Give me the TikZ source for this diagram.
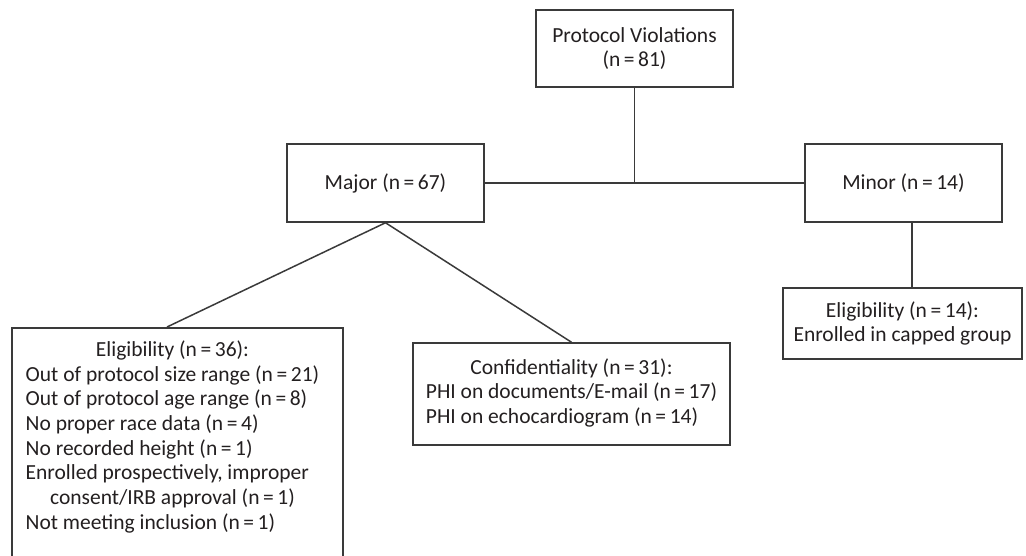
\documentclass[tikz,border=0pt]{standalone}
\usepackage{fontspec}
\setmainfont{Carlito}
\usetikzlibrary{positioning}
\definecolor{pvLine}{HTML}{3A3A3A}
\definecolor{pvInk} {HTML}{231F20}
\newcommand{\nn}[1]{(n\,=\,#1)}
\newcommand{\crow}[1]{\multicolumn{1}{@{}c@{}}{#1}}

\begin{document}
\begin{tikzpicture}[x=1pt,y=-1pt,
      font=\fontsize{21.5}{24.7}\selectfont,text=pvInk,
      box/.style={draw=pvLine,line width=1.5pt,inner sep=0pt,align=center},
      link/.style={pvLine,line width=1.5pt}]
  \useasboundingbox (0,0) rectangle (1026,556);
  \clip (0,0) rectangle (1026,556);

  % top level
  \node[box,minimum width=197,minimum height=77] (pv) at (634.5,48.5) {Protocol Violations\\\nn{81}};
  \node[box,minimum width=197,minimum height=78] (maj) at (385.5,183) {Major \nn{67}};
  \node[box,minimum width=197,minimum height=78] (mnr) at (903.5,183) {Minor \nn{14}};

  % second level
  \node[box,anchor=north,minimum width=331,minimum height=260] (elig) at (177.5,327) {};
  \node[inner sep=0pt,below=12pt of elig.north,xshift=-5pt] (eligtxt) {%
    \begin{tabular}{@{}l@{}}
      \crow{Eligibility \nn{36}:}\\
      Out of protocol size range \nn{21}\\
      Out of protocol age range \nn{8}\\
      No proper race data \nn{4}\\
      No recorded height \nn{1}\\
      Enrolled prospectively, improper\\
      \crow{consent/IRB approval \nn{1}}\\
      Not meeting inclusion \nn{1}
    \end{tabular}};
  \node[box,minimum width=317,minimum height=102] (conf) at (571.5,394) {%
    \begin{tabular}{@{}l@{}}
      \crow{Confidentiality \nn{31}:}\\
      PHI on documents/E-mail \nn{17}\\
      PHI on echocardiogram \nn{14}
    \end{tabular}};
  \node[box,minimum width=239,minimum height=71] (capd) at (902.5,323.5) {Eligibility \nn{14}:\\Enrolled in capped group};

  \coordinate (eligtop) at ([xshift=-10.5pt]elig.north);
  \coordinate (mnrfoot) at ([xshift=8.5pt]mnr.south);

  \draw[link] (pv.south) -- (pv.south |- maj.east);
  \foreach \a/\b in {maj.east/mnr.west,maj.south/eligtop,maj.south/conf.north}
    \draw[link] (\a) -- (\b);
  \draw[link] (mnrfoot) -- (mnrfoot |- capd.north);
\end{tikzpicture}
\end{document}
